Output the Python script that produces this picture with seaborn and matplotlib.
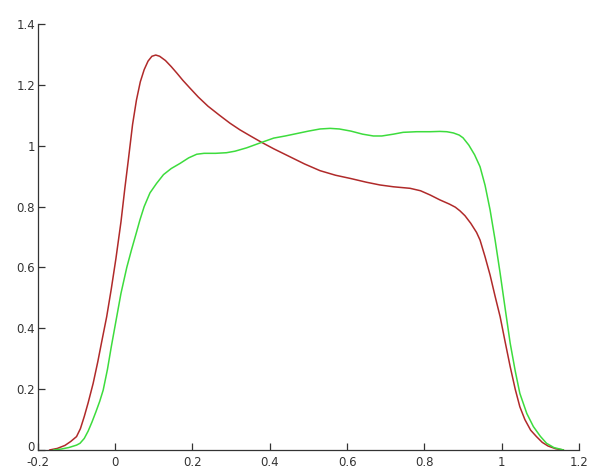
import matplotlib
matplotlib.use("Agg")
import matplotlib.pyplot as plt
import matplotlib.transforms as mtransforms
import numpy as np
import pandas as pd
import seaborn as sns

# values
red_x = [-0.17, -0.15, -0.13, -0.115, -0.1, -0.09, -0.08, -0.07, -0.057, -0.045, -0.035,
         -0.022, -0.01, 0.002, 0.015, 0.025, 0.034, 0.045, 0.055, 0.065, 0.075, 0.085,
         0.095, 0.105, 0.115, 0.13, 0.145, 0.16, 0.175, 0.193, 0.215, 0.24, 0.27, 0.297,
         0.323, 0.35, 0.379, 0.41, 0.45, 0.49, 0.53, 0.57, 0.61, 0.65, 0.685, 0.72, 0.763,
         0.79, 0.815, 0.84, 0.865, 0.88, 0.892, 0.905, 0.92, 0.935, 0.944, 0.957, 0.97, 0.983,
         0.996, 1.009, 1.022, 1.035, 1.047, 1.06, 1.075, 1.09, 1.105, 1.12, 1.14, 1.16]
red_y = [0.0, 0.005, 0.015, 0.028, 0.044, 0.07, 0.11, 0.155, 0.219, 0.29, 0.355,
         0.438, 0.53, 0.63, 0.75, 0.86, 0.953, 1.07, 1.15, 1.21, 1.25, 1.278,
         1.294, 1.298, 1.294, 1.28, 1.26, 1.238, 1.215, 1.19, 1.16, 1.13, 1.1, 1.074,
         1.052, 1.032, 1.011, 0.99, 0.965, 0.94, 0.918, 0.903, 0.892, 0.88, 0.871, 0.865, 0.86,
         0.852, 0.838, 0.822, 0.808, 0.798, 0.786, 0.77, 0.745, 0.715, 0.69, 0.635, 0.575, 0.505,
         0.438, 0.355, 0.274, 0.2, 0.142, 0.1, 0.065, 0.044, 0.025, 0.013, 0.004, 0.0]

green_x = [-0.16, -0.14, -0.12, -0.1, -0.091, -0.08, -0.07, -0.06, -0.05, -0.04, -0.031,
           -0.02, -0.01, 0.004, 0.015, 0.03, 0.042, 0.055, 0.064, 0.075, 0.09, 0.107, 0.125,
           0.145, 0.168, 0.19, 0.211, 0.23, 0.26, 0.288, 0.31, 0.34, 0.379, 0.41, 0.44, 0.47,
           0.5, 0.53, 0.556, 0.58, 0.61, 0.64, 0.668, 0.69, 0.72, 0.745, 0.78, 0.815, 0.84,
           0.858, 0.875, 0.89, 0.9, 0.915, 0.93, 0.944, 0.957, 0.97, 0.983, 0.996, 1.009,
           1.022, 1.035, 1.047, 1.065, 1.082, 1.1, 1.116, 1.135, 1.16]
green_y = [0.0, 0.003, 0.008, 0.016, 0.022, 0.038, 0.062, 0.092, 0.125, 0.16, 0.197,
           0.265, 0.34, 0.438, 0.515, 0.6, 0.657, 0.715, 0.756, 0.8, 0.845, 0.876, 0.905,
           0.925, 0.942, 0.96, 0.972, 0.975, 0.975, 0.977, 0.982, 0.993, 1.011, 1.025, 1.032, 1.04,
           1.048, 1.055, 1.057, 1.055, 1.048, 1.038, 1.032, 1.032, 1.038, 1.044, 1.046, 1.046, 1.047,
           1.046, 1.042, 1.035, 1.026, 1.002, 0.97, 0.931, 0.87, 0.789, 0.69, 0.581, 0.465,
           0.351, 0.26, 0.186, 0.12, 0.077, 0.045, 0.022, 0.008, 0.0]

x_ticks = [-0.2, 0, 0.2, 0.4, 0.6, 0.8, 1, 1.2]
x_labels = ["-0.2", "0", "0.2", "0.4", "0.6", "0.8", "1", "1.2"]
y_ticks = [0, 0.2, 0.4, 0.6, 0.8, 1, 1.2, 1.4]
y_labels = ["0", "0.2", "0.4", "0.6", "0.8", "1", "1.2", "1.4"]

df = pd.concat([
    pd.DataFrame({"x": red_x, "y": red_y, "s": "red"}),
    pd.DataFrame({"x": green_x, "y": green_y, "s": "green"}),
])

sns.set_style("ticks")
fig = plt.figure(figsize=(5.92, 4.68), dpi=100)
ax = fig.add_axes([0.064, 0.0385, 0.914, 0.9102])

sns.lineplot(data=df, x="x", y="y", hue="s", sort=False, estimator=None,
             palette={"red": "#b02a2a", "green": "#3ddc3d"}, linewidth=1.1,
             legend=False, ax=ax)

ax.set_xlim(-0.2, 1.2)
ax.set_ylim(0, 1.4)
ax.set_xticks(x_ticks)
ax.set_xticklabels(x_labels)
ax.set_yticks(y_ticks)
ax.set_yticklabels(y_labels)
ax.set_xlabel("")
ax.set_ylabel("")
sns.despine(ax=ax)
for sp in ["left", "bottom"]:
    ax.spines[sp].set_color("#333333")
    ax.spines[sp].set_linewidth(0.9)
ax.tick_params(direction="in", length=5, width=0.9, color="#333333",
               labelsize=8.5, labelcolor="#333333", pad=2)
ax.tick_params(axis="x", pad=4.5)

# nudge the "0" y label up a little so it clears "-0.2"
lbl = ax.get_yticklabels()[0]
lbl.set_transform(lbl.get_transform() + mtransforms.ScaledTranslation(0, 3 / 72, fig.dpi_scale_trans))

fig.savefig("out.png", dpi=100)
